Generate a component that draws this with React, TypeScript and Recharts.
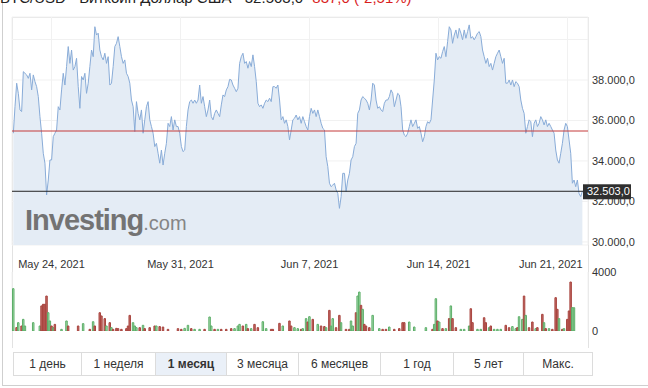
import {
  ComposedChart,
  Area,
  Bar,
  Cell,
  XAxis,
  YAxis,
  CartesianGrid,
  ReferenceLine,
} from "recharts";

// BTC/USD, 1 month, ~2h10m steps
const START = Date.UTC(2021, 4, 21, 22, 18);
const STEP = 130 * 60000;
const X_DOMAIN = [Date.UTC(2021, 4, 21, 20, 34), Date.UTC(2021, 5, 22, 2, 38)];
const WEEK_TICKS = [
  Date.UTC(2021, 4, 24),
  Date.UTC(2021, 4, 31),
  Date.UTC(2021, 5, 7),
  Date.UTC(2021, 5, 14),
  Date.UTC(2021, 5, 21),
];
const WEEK_LABELS = ["May 24, 2021", "May 31, 2021", "Jun 7, 2021", "Jun 14, 2021", "Jun 21, 2021"];

const PRICE_TICKS = [30000, 32000, 34000, 36000, 38000, 40000];
const PRICE_LABELED = [30000, 32000, 34000, 36000, 38000];
const VOLUME_TICKS = [0, 4000];
const LAST_PRICE = 32503;
const RED_LEVEL = 35480;

const priceA = [
  35370, 36680, 37840, 37340, 36520, 36440, 38410, 38330, 38250, 38080,
  38330, 37510, 38250, 37920, 37670, 37180, 36190, 35370, 34380, 33890,
  32320, 33060, 34050, 34050, 35200, 35370, 35530, 36680, 36520, 37510,
  38330, 37750, 38660, 39650, 38820, 39480, 38490, 38660, 39070, 37670,
  36600, 38170, 38000, 38330, 37340, 37840, 38660, 39480, 39150, 40630,
  40220, 40310, 39480, 39150, 38990, 39320, 38820, 39150, 37750, 37840,
  38660, 39650, 39810, 40140, 39650, 39150, 38820, 38990, 38330, 38170,
  37840, 37010, 36680, 35450, 36930, 36350, 36030, 36520, 35370, 36030,
  36680, 36930, 36030, 35700, 35370, 34710, 34870, 34380, 33890, 34540,
  33800, 34380, 34870, 35860, 35700, 36190, 35530, 36030, 35700, 35700,
  35370, 34710, 34460, 34540, 35700, 36520, 36930, 37010, 36850, 37010,
  36850, 37010, 37750, 36850, 37180, 36680, 36190, 36520, 37010, 36190,
  36030, 36350, 36520, 36350, 36190,
];

const priceB = [
  36770, 37260, 37180, 37510, 37670, 38030, 38000, 37750, 37590, 37420,
  37590, 38820, 39150, 39320, 38820, 38910, 38580, 38910, 38660, 39240,
  38660, 37920, 36850, 36680, 36770, 36600, 36850, 37010, 36930, 37100,
  36930, 37670, 37670, 37590, 37750, 37010, 36030, 36190, 35860, 36030,
  35700, 35040, 35530, 36030, 36110, 36270, 36030, 36190, 35860, 36190,
  35940, 35700, 35530, 36190, 36600, 36350, 36520, 36190, 36520, 36190,
  35860, 35610, 35530, 34210, 33720, 32900, 32730, 32810, 32900, 32570,
  32400, 31660, 32240, 33390, 33390, 32490, 33060, 33390, 34050, 34210,
  34710, 34870, 36350, 36520, 37010, 37180, 37100, 37010, 36850, 36520,
  37010, 37840, 37750, 37010, 36600, 36680, 36520, 36440, 36850, 37010,
  37010, 37180, 37510, 37340, 36680, 37010, 37340, 37260, 36680, 35530,
  35280, 35200, 35370, 35700, 36030, 35700, 35860, 36030, 35610, 35700,
];

const priceC = [
  35370, 34950, 35200, 35700, 35940, 35860, 36030, 37010, 38000, 39320,
  38990, 39150, 39070, 39400, 39650, 39150, 39890, 40630, 40470, 39810,
  40220, 40470, 40060, 40550, 40310, 39980, 40470, 40060, 40390, 40720,
  40060, 40140, 39980, 40140, 40310, 40390, 40140, 39480, 39150, 38820,
  39070, 38660, 38820, 38490, 38820, 39150, 39320, 39480, 39150, 38820,
  39070, 37840, 37840, 38000, 37750, 38000, 37670, 37920, 37840, 37670,
  37010, 36600, 36350, 35370, 35700, 36030, 35940, 35200, 35860, 36030,
  35700, 35860, 36190, 36030, 35780, 36030, 35700, 35860, 35700, 35530,
  35370, 34540, 34050, 33890, 34380, 34870, 35530, 35860, 35700, 35040,
  34380, 32900, 33060, 32730, 33060, 32400, 32240, 32503,
];

// [point index, volume, 1 = up / 0 = down]
const volumeBars = [
  [0, 2870, 1], [2, 230, 0], [3, 565, 1], [5, 340, 0], [6, 790, 1], [7, 340, 1], [12, 565, 1],
  [16, 340, 1], [17, 1700, 0], [18, 1810, 0], [19, 1810, 0], [20, 2370, 0], [21, 1240, 1],
  [22, 680, 1], [23, 340, 0], [24, 226, 1], [25, 450, 0], [29, 113, 1], [32, 680, 1], [33, 340, 0],
  [39, 340, 0], [42, 500, 1], [46, 113, 0], [48, 630, 1], [49, 340, 0], [52, 1240, 0], [53, 1020, 0],
  [55, 840, 0], [56, 340, 1], [58, 565, 0], [59, 226, 1], [60, 113, 0], [62, 180, 0], [63, 160, 0],
  [65, 113, 0], [68, 160, 0], [69, 340, 0], [70, 1060, 0], [72, 565, 1], [73, 340, 1], [74, 226, 1],
  [76, 226, 0], [78, 385, 1], [79, 160, 0], [82, 226, 0],
  [85, 340, 0], [86, 340, 1], [88, 300, 0], [90, 270, 0], [93, 113, 0], [99, 160, 0], [101, 113, 0],
  [103, 180, 1], [105, 385, 1], [107, 160, 0], [109, 113, 1], [112, 113, 1], [115, 113, 0],
  [118, 950, 1], [119, 340, 1], [121, 113, 0], [123, 113, 1], [125, 113, 0], [128, 113, 0],
  [131, 160, 0], [133, 160, 1], [135, 340, 1], [136, 450, 1], [138, 340, 0], [140, 450, 1],
  [141, 160, 0], [143, 160, 1], [145, 450, 0], [147, 226, 0], [150, 630, 1], [152, 160, 1],
  [155, 113, 0], [156, 113, 0], [160, 520, 0], [162, 340, 1], [166, 680, 0], [167, 340, 0],
  [169, 226, 1], [171, 160, 1], [173, 113, 0],
  [174, 160, 1], [176, 840, 1], [177, 610, 0], [178, 970, 1], [180, 790, 0], [183, 450, 1],
  [185, 340, 0], [187, 300, 0], [188, 226, 1], [190, 1400, 0], [191, 340, 1], [192, 840, 1],
  [194, 226, 0], [196, 1060, 0], [197, 565, 1], [200, 113, 0], [202, 113, 0], [203, 680, 1],
  [204, 340, 1], [206, 1240, 0], [207, 2370, 1], [208, 2640, 1], [209, 1740, 0], [210, 1470, 1],
  [211, 450, 0], [212, 340, 0], [214, 226, 0], [216, 1060, 1], [220, 160, 1], [222, 113, 0],
  [224, 113, 0], [226, 270, 1], [229, 113, 0], [232, 160, 0], [234, 565, 0], [235, 565, 0],
  [238, 610, 1], [241, 270, 1], [248, 226, 1], [252, 113, 0], [253, 450, 1], [254, 2190, 1],
  [255, 680, 0], [256, 610, 1], [258, 160, 0], [260, 160, 1], [262, 840, 0], [263, 1700, 1],
  [264, 840, 0], [266, 226, 0], [269, 113, 1], [271, 113, 1], [274, 340, 1], [275, 1510, 0],
  [276, 565, 0], [279, 113, 1], [281, 113, 1], [283, 900, 0], [284, 565, 0], [286, 226, 1],
  [287, 340, 0], [289, 113, 1], [291, 113, 1], [293, 113, 1], [296, 385, 0], [298, 226, 0],
  [300, 300, 1], [302, 160, 1], [303, 226, 0], [304, 970, 1], [306, 790, 1], [307, 2370, 0],
  [308, 1060, 1], [310, 226, 0], [312, 610, 0], [314, 160, 1], [315, 226, 0], [318, 1130, 0],
  [319, 565, 1], [320, 160, 0], [322, 160, 1], [324, 113, 0], [326, 2260, 0], [327, 1470, 0],
  [328, 840, 1], [330, 113, 0], [331, 160, 1], [333, 790, 0], [334, 1360, 0], [335, 3320, 0],
  [336, 1580, 1], [337, 1580, 1],
];

const RANGES = ["1 день", "1 неделя", "1 месяц", "3 месяца", "6 месяцев", "1 год", "5 лет", "Макс."];
const RANGE_WIDTHS = [67, 73, 70, 71, 81, 72, 69, 68];
const ACTIVE_RANGE = 2;

const FONT = "Arial, 'Liberation Sans', sans-serif";

const priceData = [...priceA, ...priceB, ...priceC].map((p, i) => ({
  t: START + i * STEP,
  price: p,
}));

const volumeData = volumeBars.map(([i, v, up]) => ({
  t: START + i * STEP,
  vol: v,
  up: up === 1,
}));

function fmtPrice(v: number) {
  const th = Math.floor(v / 1000);
  const rest = String(v % 1000).padStart(3, "0");
  return `${th}.${rest},0`;
}

function DateTick(props: any) {
  const { x, y, payload } = props;
  const idx = WEEK_TICKS.indexOf(payload.value);
  const last = idx === WEEK_TICKS.length - 1;
  return (
    <text
      x={last ? x + 15 : x}
      y={y + 21}
      textAnchor={last ? "end" : "middle"}
      fontSize={11}
      fill="#333"
      fontFamily={FONT}
    >
      {WEEK_LABELS[idx]}
    </text>
  );
}

function PriceTick(props: any) {
  const { x, y, payload } = props;
  if (!PRICE_LABELED.includes(payload.value)) return null;
  return (
    <text x={x + 2} y={y + 4} fontSize={11} fill="#333" fontFamily={FONT}>
      {fmtPrice(payload.value)}
    </text>
  );
}

function VolTick(props: any) {
  const { x, y, payload } = props;
  return (
    <text x={x + 2} y={y + 4} fontSize={11} fill="#333" fontFamily={FONT}>
      {payload.value}
    </text>
  );
}

function PriceTag(props: any) {
  const vb = props.viewBox || {};
  const right = (vb.x || 0) + (vb.width || 0);
  const y = vb.y || 0;
  return (
    <g>
      <rect x={right - 5} y={y - 7} width={48} height={15} fill="#2f2f2f" />
      <text x={right - 1} y={y + 4} fontSize={11} fill="#fff" fontFamily={FONT}>
        {fmtPrice(LAST_PRICE)}
      </text>
    </g>
  );
}

export default function App() {
  return (
    <div
      style={{
        position: "fixed",
        left: 0,
        top: 0,
        width: 648,
        height: 388,
        background: "#fff",
        overflow: "hidden",
        fontFamily: FONT,
      }}
    >
      {/* outer frame */}
      <div
        style={{
          position: "absolute",
          left: 2,
          top: -10,
          width: 700,
          height: 394,
          border: "1px solid #cfcfcf",
        }}
      />
      {/* cut-off heading */}
      <div
        style={{
          position: "absolute",
          left: 0,
          top: -11,
          fontSize: 15,
          whiteSpace: "nowrap",
          color: "#222",
        }}
      >
        BTC/USD - Биткойн Доллар США - 32.503,0{" "}
        <span style={{ color: "#d91e1e" }}>-837,0 (-2,51%)</span>
      </div>
      {/* chart panel border */}
      <div
        style={{
          position: "absolute",
          left: 12,
          top: 17,
          width: 575,
          height: 330,
          borderLeft: "1px solid #e2e2e2",
          borderRight: "1px solid #e2e2e2",
          borderTop: "1px solid #e2e2e2",
        }}
      />

      <div style={{ position: "absolute", left: 0, top: 0 }}>
        <ComposedChart
          width={648}
          height={272}
          data={priceData}
          margin={{ top: 17, right: 0, left: 12, bottom: 0 }}
        >
          <CartesianGrid stroke="#f1f1f1" />
          <XAxis
            dataKey="t"
            type="number"
            domain={X_DOMAIN}
            ticks={WEEK_TICKS}
            interval={0}
            height={27}
            axisLine={false}
            tickLine={false}
            tickSize={0}
            tick={<DateTick />}
            allowDataOverflow
          />
          <YAxis
            orientation="right"
            type="number"
            domain={[29850, 41110]}
            ticks={PRICE_TICKS}
            interval={0}
            width={60}
            axisLine={false}
            tickLine={false}
            tickSize={0}
            tick={<PriceTick />}
            allowDataOverflow
          />
          <Area
            type="linear"
            dataKey="price"
            stroke="#89acd8"
            strokeWidth={1}
            fill="#e4ecf5"
            fillOpacity={1}
            dot={false}
            activeDot={false}
            isAnimationActive={false}
          />
          <ReferenceLine y={RED_LEVEL} stroke="#c43a3a" strokeWidth={1} />
          <ReferenceLine y={LAST_PRICE} stroke="#222" strokeWidth={1} label={<PriceTag />} />
        </ComposedChart>
      </div>

      <div style={{ position: "absolute", left: 0, top: 258 }}>
        <ComposedChart
          width={648}
          height={90}
          data={volumeData}
          margin={{ top: 14, right: 0, left: 12, bottom: 17 }}
        >
          <CartesianGrid stroke="#f1f1f1" horizontal={false} />
          <XAxis
            dataKey="t"
            type="number"
            domain={X_DOMAIN}
            ticks={WEEK_TICKS}
            interval={0}
            height={0}
            axisLine={false}
            tickLine={false}
            tick={false}
            allowDataOverflow
          />
          <YAxis
            orientation="right"
            type="number"
            domain={[0, 4000]}
            ticks={VOLUME_TICKS}
            interval={0}
            width={60}
            axisLine={false}
            tickLine={false}
            tickSize={0}
            tick={<VolTick />}
            allowDataOverflow
          />
          <Bar dataKey="vol" barSize={3} isAnimationActive={false}>
            {volumeData.map((d, i) => (
              <Cell
                key={i}
                fill={d.up ? "rgba(140, 210, 150, 0.75)" : "rgba(185, 80, 75, 0.85)"}
                stroke={d.up ? "#5cae68" : "#a8453f"}
                strokeWidth={1}
              />
            ))}
          </Bar>
        </ComposedChart>
      </div>

      {/* watermark */}
      <div
        style={{
          position: "absolute",
          left: 25,
          top: 206,
          color: "#737373",
          lineHeight: 1,
          whiteSpace: "nowrap",
          pointerEvents: "none",
        }}
      >
        <span style={{ fontSize: 29, fontWeight: 700, letterSpacing: -1 }}>Investing</span>
        <span style={{ fontSize: 20, color: "#858585" }}>.com</span>
      </div>

      {/* range buttons */}
      <div
        style={{
          position: "absolute",
          left: 13,
          top: 352,
          display: "flex",
          height: 24,
          border: "1px solid #dcdcdc",
          boxSizing: "border-box",
        }}
      >
        {RANGES.map((r, i) => (
          <div
            key={r}
            style={{
              width: RANGE_WIDTHS[i],
              borderLeft: i === 0 ? "none" : "1px solid #dcdcdc",
              display: "flex",
              alignItems: "center",
              justifyContent: "center",
              fontSize: 12,
              color: "#333",
              fontWeight: i === ACTIVE_RANGE ? 700 : 400,
              background: i === ACTIVE_RANGE ? "#eaf0f8" : "#fff",
            }}
          >
            {r}
          </div>
        ))}
      </div>
    </div>
  );
}
